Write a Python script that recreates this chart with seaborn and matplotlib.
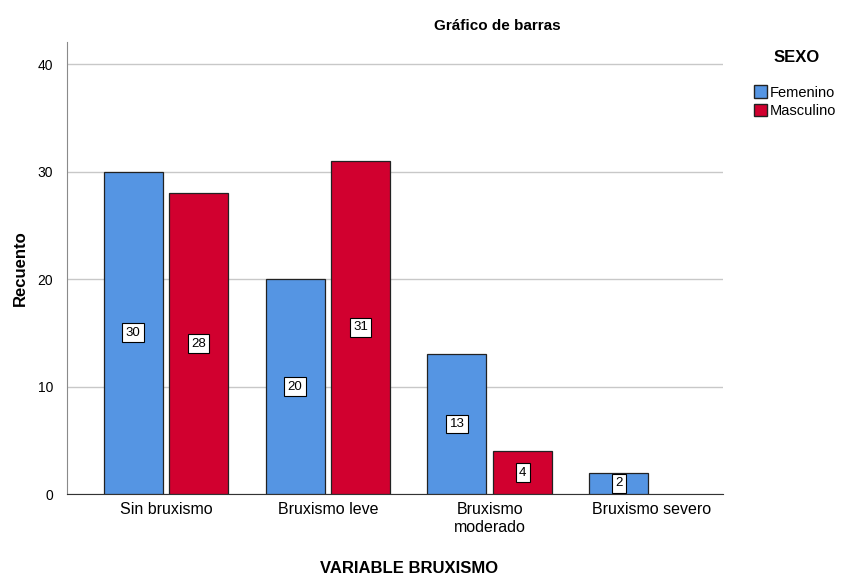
import pandas as pd
import matplotlib.pyplot as plt
import seaborn as sns
from matplotlib.patches import Patch

categories = ["Sin bruxismo", "Bruxismo leve", "Bruxismo\nmoderado", "Bruxismo severo"]
femenino = [30, 20, 13, 2]
masculino = [28, 31, 4, 0]
sexes = ["Femenino", "Masculino"]
colors = ["#5595E3", "#D1002F"]

rows = []
for cat, f, m in zip(categories, femenino, masculino):
    rows.append({"cat": cat, "sexo": "Femenino", "n": f})
    if m > 0:
        rows.append({"cat": cat, "sexo": "Masculino", "n": m})
df = pd.DataFrame(rows)

sns.set_style("white")
plt.rcParams['font.family'] = ['Liberation Sans', 'DejaVu Sans']
plt.rcParams['text.color'] = 'black'
plt.rcParams['axes.labelcolor'] = 'black'

fig = plt.figure(figsize=(8.43, 5.79), dpi=100)
ax = fig.add_axes([0.0795, 0.1468, 0.778, 0.7807])

sns.barplot(data=df, x="cat", y="n", hue="sexo", order=categories, hue_order=sexes,
            palette=colors, width=0.81, gap=0.1, edgecolor="#222222", linewidth=0.9,
            saturation=1, legend=False, ax=ax, zorder=3)

for cont in ax.containers:
    for bar in cont:
        h = bar.get_height()
        if h > 0:
            ax.text(bar.get_x() + bar.get_width() / 2, h / 2, f"{int(h)}",
                    ha="center", va="center", fontsize=9.5, zorder=5,
                    bbox=dict(boxstyle="square,pad=0.25", fc="white", ec="black", lw=0.8))

ax.set_xlim(-0.611, 3.44)
ax.set_ylim(0, 42.05)
ax.set_yticks([0, 10, 20, 30, 40])
ax.yaxis.grid(True, color="#c8c8c8", linewidth=1, zorder=0)
ax.set_axisbelow(True)
for side in ["top", "right"]:
    ax.spines[side].set_visible(False)
ax.spines["left"].set_color("#8a8a8a")
ax.spines["bottom"].set_color("#333333")
ax.tick_params(axis="y", length=6, color="#8a8a8a", labelcolor="black", labelsize=10, pad=4)
ax.tick_params(axis="x", length=0, labelcolor="black", labelsize=11.5, pad=6)
ax.set_xlabel("")
ax.set_ylabel("Recuento", fontsize=12, fontweight="bold", labelpad=7)

fig.text(0.59, 0.955, "Gráfico de barras", ha="center", va="center", fontsize=11, fontweight="bold")
fig.text(0.485, 0.018, "VARIABLE BRUXISMO", ha="center", va="center", fontsize=12, fontweight="bold")

fig.text(0.945, 0.9, "SEXO", ha="center", va="center", fontsize=12, fontweight="bold")
handles = [Patch(facecolor=c, edgecolor="#222222", label=s) for c, s in zip(colors, sexes)]
fig.legend(handles=handles, loc="upper left", bbox_to_anchor=(0.886, 0.865),
           frameon=False, fontsize=10.5, handlelength=0.9, handleheight=0.9,
           handletextpad=0.2, labelspacing=0.3, borderpad=0)

fig.savefig("out.png", dpi=100)
